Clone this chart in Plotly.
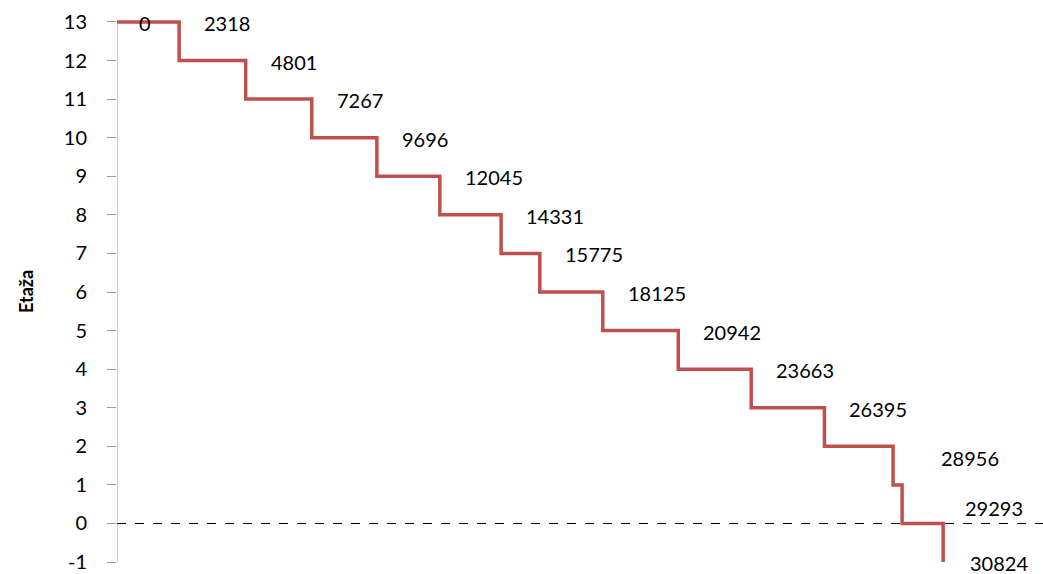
import plotly.graph_objects as go

# Cumulative distance at the end of each flight, and the floor reached after it
distance = [0, 2318, 4801, 7267, 9696, 12045, 14331, 15775, 18125,
            20942, 23663, 26395, 28956, 29293, 30824]
floor = [13, 12, 11, 10, 9, 8, 7, 6, 5, 4, 3, 2, 1, 0, -1]

y_ticks = list(range(-1, 14))
y_tick_text = [str(v) for v in y_ticks]

LINE_RED = "#C0504D"
FONT = "Lato"
LABEL_SIZE = 20

fig = go.Figure()

# Staircase: horizontal run along each floor, then a drop to the next one
fig.add_trace(go.Scatter(
    x=distance, y=floor, mode="lines", line_shape="hv",
    line=dict(color=LINE_RED, width=3.5),
    hoverinfo="x+y", showlegend=False,
))

# Ground level reference
fig.add_shape(type="line", xref="paper", yref="y", x0=0, x1=1, y0=0, y1=0,
              line=dict(color="black", width=1, dash="dash"), layer="below")

# Y axis spine, only across the tick range
fig.add_shape(type="line", xref="x", yref="y", x0=0, x1=0,
              y0=y_ticks[0], y1=y_ticks[-1],
              line=dict(color="#9a9a9a", width=1))

# Distance labels, anchored at the corner where each floor run ends
label_offsets = {0: (20, 1), 12: (46, 12), 13: (61, 23), 14: (25, 40)}
for i, d in enumerate(distance):
    level = floor[max(i - 1, 0)]
    dx, dy = label_offsets.get(i, (23, 1))
    fig.add_annotation(
        x=d, y=level, xref="x", yref="y", text=str(d), showarrow=False,
        xanchor="left", yanchor="middle", xshift=dx, yshift=-dy,
        font=dict(family=FONT, size=LABEL_SIZE, color="black"),
    )

# Axis title
fig.add_annotation(
    x=0, y=0.5, xref="paper", yref="paper", text="<b>Etaža</b>",
    showarrow=False, textangle=-90, xanchor="center", yanchor="middle",
    xshift=-91, font=dict(family=FONT, size=18, color="black"),
)

fig.update_xaxes(range=[0, 34550], visible=False, showgrid=False,
                 zeroline=False)
fig.update_yaxes(
    range=[-1.05, 13.05], tickmode="array", tickvals=y_ticks,
    ticktext=y_tick_text, ticks="outside", ticklen=9, tickcolor="#9a9a9a",
    tickwidth=1, showline=False, showgrid=False, zeroline=False,
    ticklabelstandoff=16,
    tickfont=dict(family=FONT, size=LABEL_SIZE, color="black"),
)

fig.update_layout(
    width=1043, height=574,
    margin=dict(l=117, r=0, t=20.07, b=10.07),
    plot_bgcolor="white", paper_bgcolor="white",
    font=dict(family=FONT),
)

fig.write_html("out.html")
